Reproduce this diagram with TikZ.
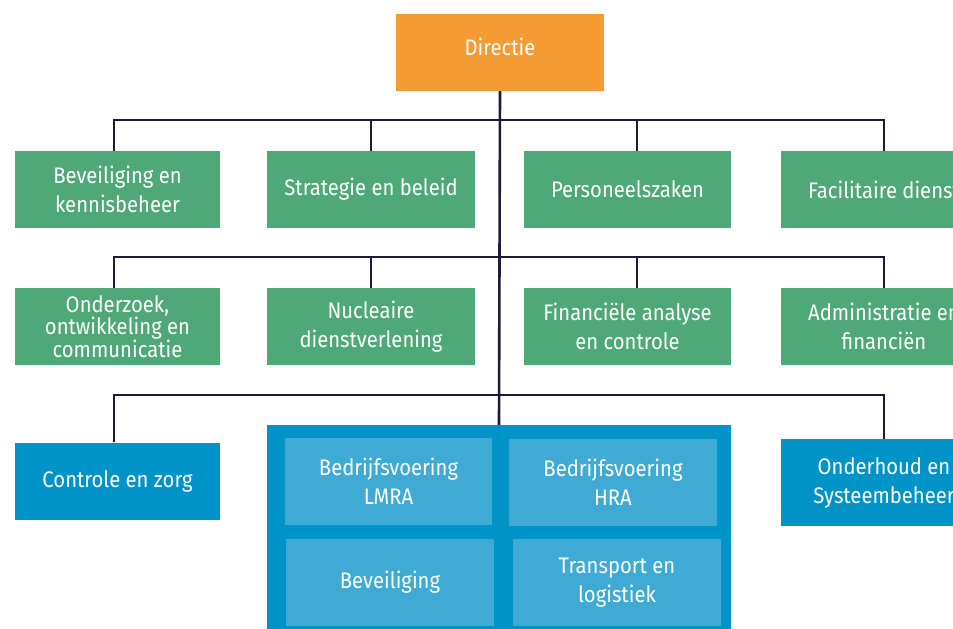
\documentclass[tikz,border=0pt]{standalone}
\usepackage{fontspec}
\setmainfont{Fira Sans}[FakeStretch=0.9]
\usetikzlibrary{positioning}

\definecolor{orgorange}{HTML}{F49B33}
\definecolor{orggreen}{HTML}{4FA877}
\definecolor{orgblue}{HTML}{0093C7}
\definecolor{orglight}{HTML}{3FABD5}
\definecolor{orgline}{HTML}{1E1B3A}

\begin{document}
\begin{tikzpicture}[x=1pt,y=-1pt,
		unit/.style={fill=#1, text=white, minimum width=205pt, minimum height=77pt,
			inner sep=0pt, align=center, font=\fontsize{22.5}{29}\selectfont},
		link/.style={line width=2.6pt, color=orgline}]
		\useasboundingbox (0,0) rectangle (953,629);
		\clip (0,0) rectangle (953,629);
		\node [unit=orgorange, minimum width=208pt] (dir) at (500,52.5) {};
		\node [text=white, font=\fontsize{22.5}{29}\selectfont] (dirtxt) at (500,47) {Directie};
		\node [unit=orggreen] (bev) at (117.5,189.5) {Beveiliging en\\kennisbeheer};
		\node [unit=orggreen, minimum width=208pt] (str) at (371,189.5) {Strategie en beleid};
		\node [unit=orggreen, minimum width=207pt] (pers) at (627.5,189.5) {Personeelszaken};
		\node [unit=orggreen, minimum width=206pt] (fac) at (884,189.5) {Facilitaire dienst};
		\node [unit=orggreen, font=\fontsize{22.5}{22}\selectfont] (ond) at (117.5,326.5) {Onderzoek,\\ontwikkeling en\\communicatie};
		\node [unit=orggreen, minimum width=208pt] (nuc) at (371,326.5) {Nucleaire\\dienstverlening};
		\node [unit=orggreen, minimum width=207pt] (fin) at (627.5,326.5) {Financiële analyse\\en controle};
		\node [unit=orggreen, minimum width=206pt] (adm) at (884,326.5) {Administratie en\\financiën};
		\node [unit=orgblue] (ctl) at (117.5,481) {Controle en zorg};
		\node [unit=orgblue, minimum width=206pt, minimum height=87pt] (onh) at (884,482.5) {Onderhoud en\\Systeembeheer};
		\node [unit=orgblue, minimum width=464pt, minimum height=215pt] (bedr) at (499,532.5) {};
		\node [unit=orglight, minimum width=207pt, minimum height=87pt] (lmra) at (388.5,481.5) {Bedrijfsvoering\\LMRA};
		\node [unit=orglight, minimum width=208pt, minimum height=87pt] (hra) at (613,482.5) {Bedrijfsvoering\\HRA};
		\node [unit=orglight, minimum width=208pt, minimum height=87pt] (bvg) at (390,582.5) {Beveiliging};
		\node [unit=orglight, minimum width=208pt, minimum height=87pt] (trans) at (617,582.5) {Transport en\\logistiek};
		\coordinate (r1) at (500,120);
		\coordinate (r2) at (500,257);
		\coordinate (r3) at (500,395);
		\draw [link] (dir.south) -- (bedr.north);
		\draw [link] ([xshift=-3.5pt]bev.north) |- (r1) -| (fac.north);
		\draw [link] (str.north) -- (str.north |- r1);
		\draw [link] ([xshift=9.5pt]pers.north) -- ([xshift=9.5pt]pers.north |- r1);
		\draw [link] ([xshift=-3.5pt]ond.north) |- (r2) -| (adm.north);
		\draw [link] (nuc.north) -- (nuc.north |- r2);
		\draw [link] ([xshift=9.5pt]fin.north) -- ([xshift=9.5pt]fin.north |- r2);
		\draw [link] ([xshift=-3.5pt]ctl.north) |- (r3) -| (onh.north);
	\end{tikzpicture}
\end{document}
